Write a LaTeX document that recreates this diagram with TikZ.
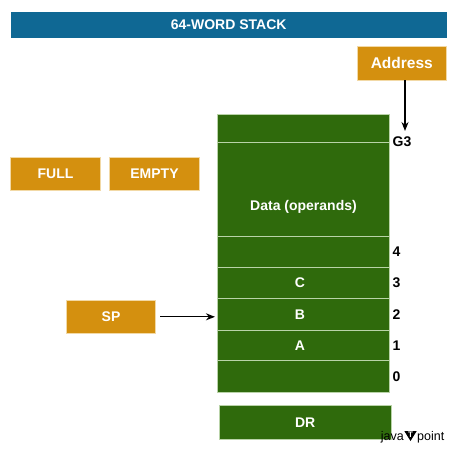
\documentclass[tikz,border=0pt]{standalone}
\usepackage{fontspec}
\setmainfont{Liberation Sans}
\usetikzlibrary{arrows.meta}
\definecolor{titleblue}{HTML}{0F6894}
\definecolor{boxorange}{HTML}{D4900F}
\definecolor{stackgreen}{HTML}{2F6A0C}
\definecolor{edgegreen}{HTML}{B9D3A8}
\definecolor{edgeorange}{HTML}{F2D9A6}
\begin{document}
\begin{tikzpicture}[x=1pt,y=-1pt,
  txt/.style={font=\fontsize{14}{16}\selectfont\bfseries},
  titlebox/.style={fill=titleblue,draw=none,text=white,txt,inner sep=0pt},
  obox/.style={fill=boxorange,draw=edgeorange,line width=0.6pt,text=white,txt,inner sep=0pt,minimum width=89.5pt,minimum height=33.3pt},
  cell/.style={fill=stackgreen,draw=edgegreen,line width=0.8pt,text=white,txt,inner sep=0pt,minimum width=171.7pt},
  celltext/.style={txt,text=white,inner sep=0pt},
  num/.style={txt,text=black,anchor=west,inner sep=0pt},
  arr/.style={line width=1.3pt,-{Stealth[length=9pt,width=7pt]}}
]
\useasboundingbox (0,0) rectangle (454,450);
\node[titlebox,minimum width=436pt,minimum height=25.7pt] (title) at (228.7,24.8) {64-WORD STACK};
\node[obox,font=\fontsize{15.5}{17}\selectfont\bfseries] (address) at (401.8,63.3) {Address};
\node[obox] (full) at (55.5,173.5) {FULL};
\node[obox] (empty) at (154.5,173.5) {EMPTY};
\node[obox] (sp) at (111,316.8) {SP};
% stack cells
\node[cell,minimum height=28.7pt] (ctop) at (303.2,128.5) {};
\node[cell,minimum height=93.3pt] (cdata) at (303.2,189.5) {};
\node[cell,minimum height=31.3pt] (c4) at (303.2,251.7) {};
\node[cell,minimum height=31.4pt] (c3) at (303.2,283) {};
\node[cell,minimum height=31.3pt] (c2) at (303.2,314.3) {};
\node[cell,minimum height=30.7pt] (c1) at (303.2,345.4) {};
\node[cell,minimum height=31.6pt] (c0) at (303.2,376.5) {};
\node[celltext] (datatext) at (303.5,206.5) {Data (operands)};
\node[celltext] (ctext) at (300,283) {C};
\node[celltext] (btext) at (300,314.3) {B};
\node[celltext] (atext) at (300,345.4) {A};
\node[cell,minimum height=33.3pt] (dr) at (305.2,422.4) {DR};
% labels
\node[num] (lg3) at (392.5,142) {G3};
\node[num] (l4) at (392.5,251.7) {4};
\node[num] (l3) at (392.5,283) {3};
\node[num] (l2) at (392.5,314.3) {2};
\node[num] (l1) at (392.5,345.4) {1};
\node[num] (l0) at (392.5,376.5) {0};
% arrows
\coordinate (atip) at (405,131);
\draw[arr] (address.south -| atip) -- (atip);
\draw[arr,shorten <=4pt,shorten >=2pt] (sp.east) -- (sp.east -| c2.west);
% logo
\node[inner sep=0pt,anchor=base east,font=\fontsize{12.5}{14}\selectfont] (ljava) at (404,440) {java};
\node[inner sep=0pt,anchor=base west,font=\fontsize{12.5}{14}\selectfont] (lpoint) at (417,440) {point};
\fill[black] (404.3,431) -- (416.7,431) -- (410.5,441) -- cycle;
\node[inner sep=0pt,text=white,font=\fontsize{8}{9}\selectfont\bfseries] (lt) at (410.5,434.5) {T};
\end{tikzpicture}
\end{document}
